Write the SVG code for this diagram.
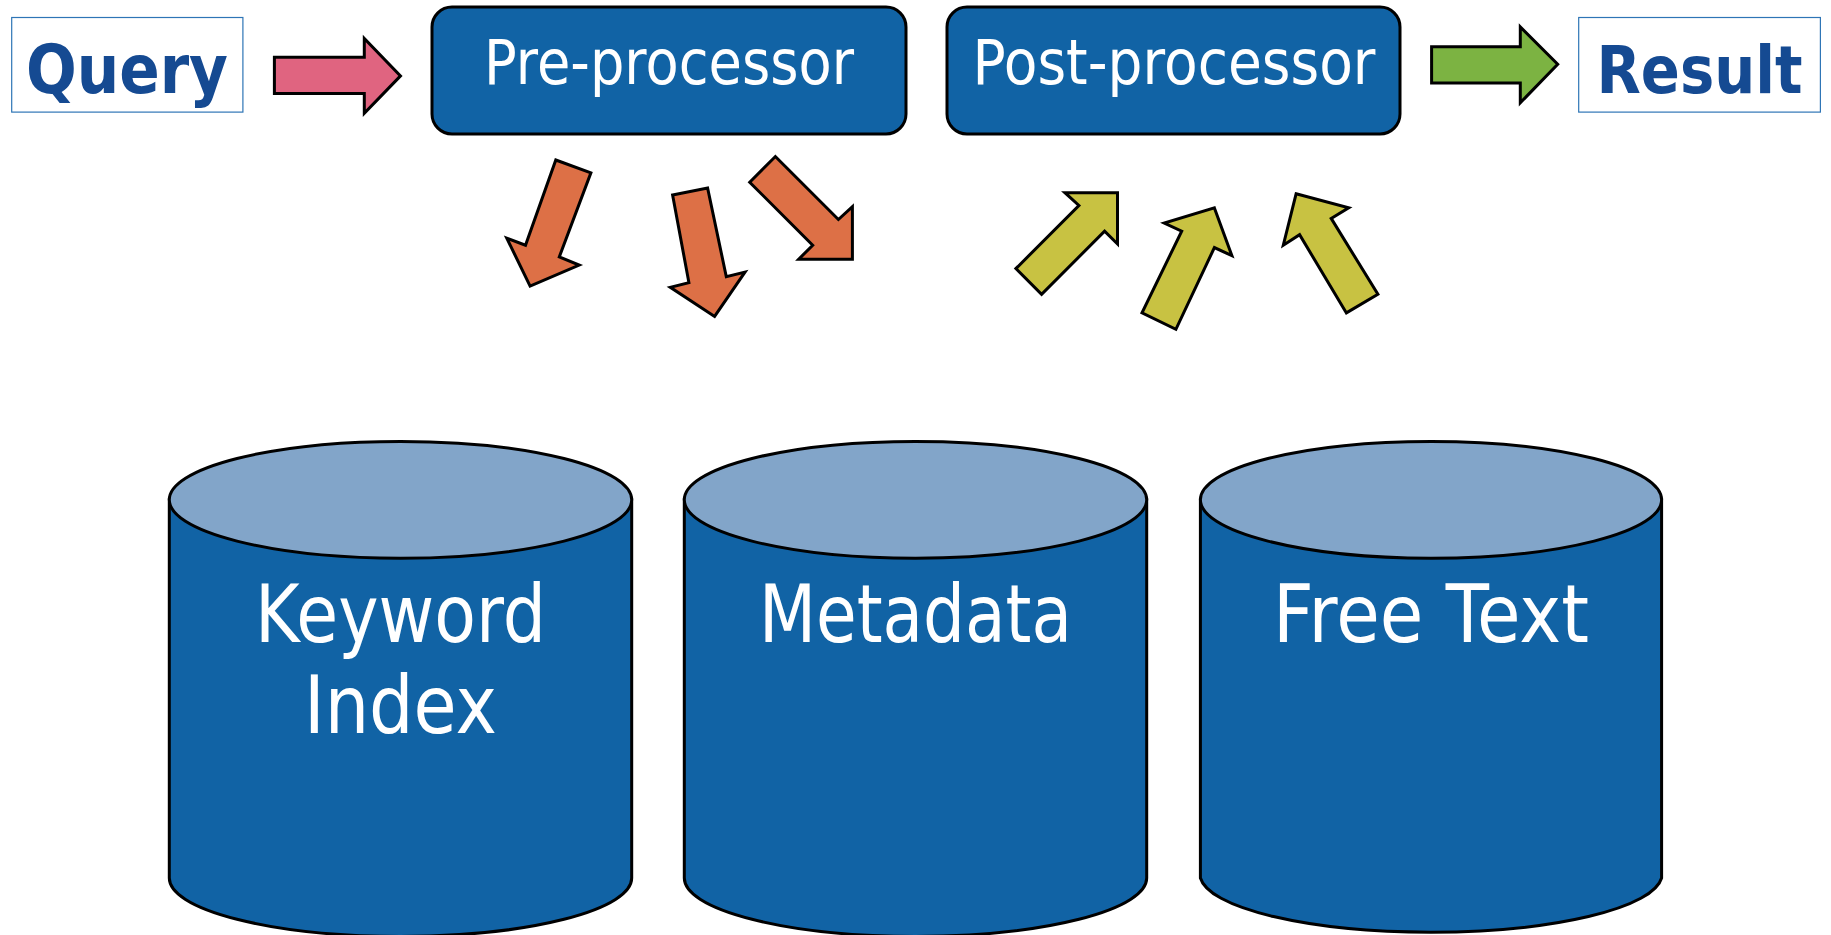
<svg xmlns="http://www.w3.org/2000/svg" width="1831" height="935" viewBox="0 0 1831 935">
<style>
.lbl{font-family:"DejaVu Sans","Liberation Sans",sans-serif;}
.io{fill:#fff;stroke:#2e75b6;stroke-width:1.2}
.iot{fill:#154a92;font-weight:bold;font-size:68px}
.proc{fill:#1163a5;stroke:#000;stroke-width:3}
.wt{fill:#fff;font-size:62px}
.body{fill:#1163a5;stroke:#000;stroke-width:3}
.top{fill:#82a5c9;stroke:#000;stroke-width:3}
.ct{fill:#fff;font-size:80px}
.ar{stroke:#000;stroke-width:3;stroke-linejoin:miter}
.orange{fill:#dd7046}
.yellow{fill:#c8c242}
</style>
<rect width="1831" height="935" fill="#fff"/>
<g id="query">
<rect class="io" x="11.7" y="17.5" width="231.2" height="94.6"/>
<text class="lbl iot" x="26" y="93.4" textLength="202" lengthAdjust="spacingAndGlyphs">Query</text>
</g>
<g id="preprocessor">
<rect class="proc" x="432" y="7" width="474" height="127" rx="20"/>
<text class="lbl wt" x="669" y="84" text-anchor="middle" textLength="370" lengthAdjust="spacingAndGlyphs">Pre-processor</text>
</g>
<g id="postprocessor">
<rect class="proc" x="947" y="7" width="453" height="127" rx="20"/>
<text class="lbl wt" x="1174" y="84" text-anchor="middle" textLength="403" lengthAdjust="spacingAndGlyphs">Post-processor</text>
</g>
<g id="result">
<rect class="io" x="1578.7" y="17.5" width="241.7" height="94.6"/>
<text class="lbl iot" x="1699.5" y="93.4" text-anchor="middle" style="font-size:66px" textLength="206" lengthAdjust="spacingAndGlyphs">Result</text>
</g>
<g id="keyword-index">
<path class="body" d="M169.3,499.8 V878 A231.2,58.4 0 0 0 631.7,878 V499.8 Z"/>
<ellipse class="top" cx="400.5" cy="499.8" rx="231.2" ry="58.4"/>
<text class="lbl ct" x="400.5" y="642" text-anchor="middle" textLength="291" lengthAdjust="spacingAndGlyphs">Keyword</text>
<text class="lbl ct" x="400.5" y="733" text-anchor="middle" textLength="193" lengthAdjust="spacingAndGlyphs">Index</text>
</g>
<g id="metadata">
<path class="body" d="M684.3,499.8 V878 A231.2,58.4 0 0 0 1146.7,878 V499.8 Z"/>
<ellipse class="top" cx="915.5" cy="499.8" rx="231.2" ry="58.4"/>
<text class="lbl ct" x="915.5" y="642" text-anchor="middle" textLength="313" lengthAdjust="spacingAndGlyphs">Metadata</text>
</g>
<g id="free-text">
<path class="body" d="M1200.4,499.8 V878 A231.2,58.4 0 0 0 1661.6,878 V499.8 Z"/>
<ellipse class="top" cx="1431" cy="499.8" rx="230.6" ry="58.4"/>
<text class="lbl ct" x="1431" y="642" text-anchor="middle" textLength="316" lengthAdjust="spacingAndGlyphs">Free Text</text>
</g>
<g id="connectors">
<polygon class="ar" fill="#e06480" points="274.4,57.2 364.3,57.2 364.3,38.5 400.5,75.9 364.3,113.3 364.3,93.4 274.4,93.4"/>
<polygon class="ar" fill="#7cb342" points="1431.6,46.7 1520.3,46.7 1520.3,26.9 1557.7,64.2 1520.3,102.8 1520.3,82.9 1431.6,82.9"/>
<polygon class="ar orange" points="555.8,160 590.9,172.8 559.3,256.9 579.2,265.1 530.1,286.1 506.8,238.2 525.5,245.2"/>
<polygon class="ar orange" points="672.6,195 707.6,188 726.3,276.7 745,272.1 714.6,316.4 670.3,287.3 688.9,282.6"/>
<polygon class="ar orange" points="749.7,182.2 775.4,156.5 838.4,219.5 852.4,206.7 852.4,259.2 798.7,259.2 812.7,245.2"/>
<polygon class="ar yellow" points="1117.5,192.7 1117.5,244 1104.6,231.2 1041.6,294.3 1015.9,268.6 1078.9,205.5 1064.9,192.7"/>
<polygon class="ar yellow" points="1214.4,207.9 1231.9,255.7 1214.4,247.6 1175.9,329.3 1142,312.9 1181.7,231.2 1164.2,223"/>
<polygon class="ar yellow" points="1296.1,193.8 1348.7,207.9 1331.2,218.4 1377.9,294.3 1346.4,312.9 1299.6,234.7 1283.3,245.2"/>
</g>
</svg>
